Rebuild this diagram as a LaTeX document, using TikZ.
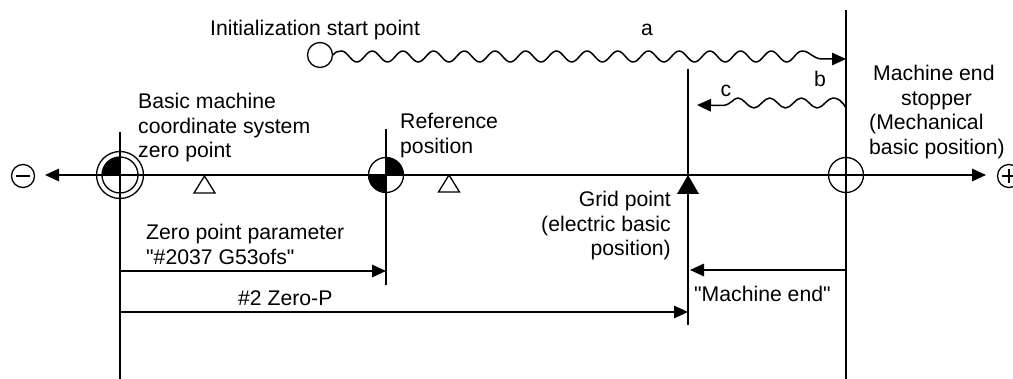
\documentclass[tikz,border=0pt]{standalone}
\usepackage{fontspec}
\newfontfamily\lib{Liberation Sans}
\usetikzlibrary{arrows.meta}
\tikzset{
  px/.style={x=1pt,y=-1pt},
  line/.style={line width=1.5pt,draw=black},
  tip/.style={-{Triangle[length=14pt,width=12.5pt]}},
  label/.style={font=\lib\fontsize{21.2}{24.6}\selectfont,inner sep=0pt,align=left,text=black},
  mark circle/.style={circle,draw=black,line width=1.3pt,minimum size=#1,inner sep=0pt,fill=none},
  mark tri/.style={line width=1.3pt,draw=black,line join=miter}
}
\begin{document}
\begin{tikzpicture}[px]
\useasboundingbox (0,0) rectangle (1013,379);
\clip (0,0) rectangle (1013,379);
% anchors
\coordinate (L) at (120,175);
\coordinate (R) at (386,175);
\coordinate (G) at (688,175);
\coordinate (S) at (846,175);
\coordinate (Ltop) at (120,132);
\coordinate (Lbot) at (120,379);
\coordinate (Rtop) at (386,129);
\coordinate (Rbot) at (386,285);
\coordinate (Gtop) at (688,69);
\coordinate (Gbot) at (688,325);
\coordinate (Stop) at (846,10);
\coordinate (Sbot) at (846,379);
\coordinate (axisL) at (45,175);
\coordinate (axisR) at (986,175);
\coordinate (a1) at (120,271);
\coordinate (a2) at (386,271);
\coordinate (b1) at (120,312);
\coordinate (b2) at (688,312);
\coordinate (c1) at (846,270);
\coordinate (c2) at (690,270);
\coordinate (waTip) at (846,59);
\coordinate (wcTip) at (697,105);
% verticals
\draw[line] (Ltop) -- (Lbot);
\draw[line] (Rtop) -- (Rbot);
\draw[line] (Gtop) -- (Gbot);
\draw[line] (Stop) -- (Sbot);
% quadrant fills
\fill (L) -- (102,175) arc[start angle=180,end angle=90,radius=18pt] -- cycle;
\fill (R) -- (386,157.5) arc[start angle=90,end angle=0,radius=17.5pt] -- cycle;
\fill (R) -- (368.5,175) arc[start angle=180,end angle=270,radius=17.5pt] -- cycle;
% axis
\draw[line,tip] (L) -- (axisL);
\draw[line,tip] (L) -- (axisR);
% marks
\node[mark circle=47pt] (Lo) at (L) {};
\node[mark circle=36pt] (Li) at (L) {};
\node[mark circle=35pt] (Rc) at (R) {};
\node[mark circle=35pt] (Sc) at (S) {};
\node[mark circle=25pt] (init) at (320,55) {};
\node[mark circle=23pt] (minus) at (23,176) {};
\node[mark circle=23pt] (plus) at (1009,176) {};
\draw[line] (16,176) -- (30,176);
\draw[line] (1002,176) -- (1016,176) (1009,169) -- (1009,183);
\draw[mark tri] (204.5,176) -- (194,193) -- (215,193) -- cycle;
\draw[mark tri] (449,175) -- (438.5,192) -- (459.5,192) -- cycle;
\fill (G) -- (677,194) -- (699,194) -- cycle;
% dimension arrows
\draw[line,tip] (a1) -- (a2);
\draw[line,tip] (b1) -- (b2);
\draw[line,tip] (c1) -- (c2);
% wavy a: half waves between crests and troughs
\draw[line,line join=round,tip] (init.east)
  .. controls (335,52) and (338,51) .. (341.5,51)
  foreach \i in {0,...,29} {
    .. controls ({341.5+15.35*\i+5.7},{56.5-5.5*cos(180*\i)})
       and ({341.5+15.35*(\i+1)-5.7},{56.5-5.5*cos(180*(\i+1))})
    .. ({341.5+15.35*(\i+1)},{56.5-5.5*cos(180*(\i+1))})
  }
  .. controls (810,51) and (812,58.5) .. (822,59) -- (waTip);
% wavy c
\draw[line,line join=round,tip] (846,108)
  .. controls (842,101) and (838,98) .. (833,98)
  foreach \i in {0,...,5} {
    .. controls ({833-15.83*\i-5.8},{103-5*cos(180*\i)})
       and ({833-15.83*(\i+1)+5.8},{103-5*cos(180*(\i+1))})
    .. ({833-15.83*(\i+1)},{103-5*cos(180*(\i+1))})
  }
  .. controls (733,98) and (731,105.5) .. (722,105.5) -- (wcTip);
% labels
\node[label,anchor=base west] (t1) at (210,36) {Initialization start point};
\node[label,anchor=base] (t2) at (647,36) {a};
\node[label,anchor=base] (t3) at (820,87) {b};
\node[label,anchor=base] (t4) at (726,97) {c};
\node[label,anchor=north west] (t5) at (138,93) {Basic machine\\coordinate system\\zero point};
\node[label,anchor=north west] (t6) at (400,113) {Reference\\position};
\node[label,anchor=north west] (t7) at (869,65) {\hspace*{4pt}Machine end\\\hspace*{32pt}stopper\\(Mechanical\\basic position)};
\node[label,anchor=north east,align=right] (t8) at (671,191) {Grid point\\(electric basic\\position)};
\node[label,anchor=north west] (t9) at (146,224) {Zero point parameter\\"\#2037 G53ofs"};
\node[label,anchor=base west] (t10) at (238,306) {\#2 Zero-P};
\node[label,anchor=base west] (t11) at (694,302) {"Machine end"};
\end{tikzpicture}
\end{document}
